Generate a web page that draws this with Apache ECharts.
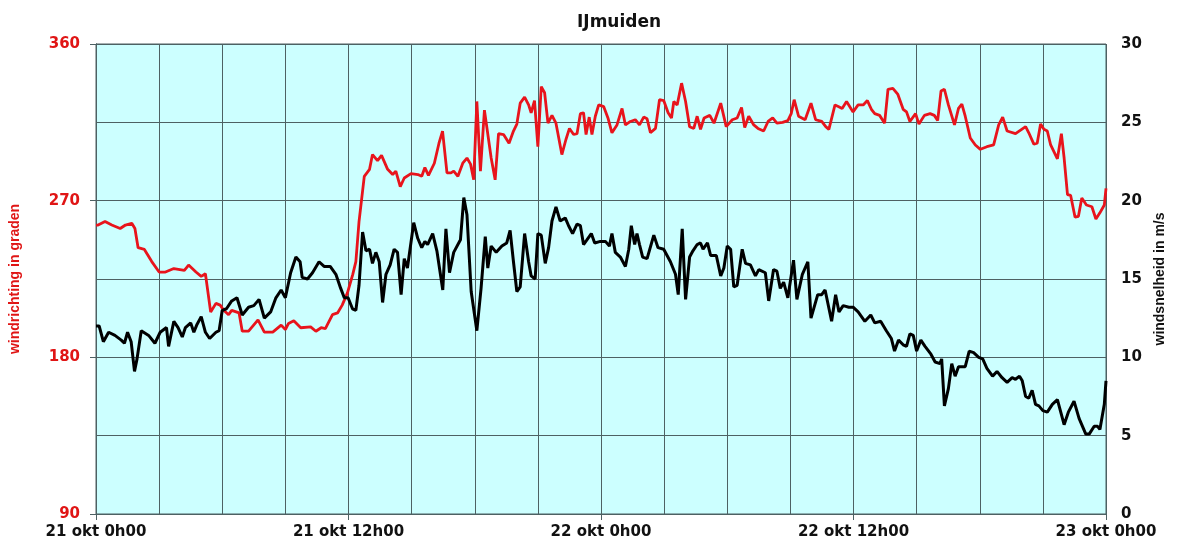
<!DOCTYPE html>
<html>
<head>
<meta charset="utf-8">
<title>IJmuiden</title>
<script src="https://cdn.jsdelivr.net/npm/echarts@6/dist/echarts.min.js"></script>
<style>
    html, body { margin: 0; padding: 0; background: #ffffff; }
    #chart { width: 1192px; height: 543px; }
</style>
</head>
<body>
<div id="chart"></div>
<script>
// ================* IJMUIDEN WIND *

// windrichting (graden), tijd in uren vanaf 21 okt 0h00
const richtingUur = [0, 0.1, 0.43, 0.75, 1.15, 1.4, 1.7, 1.85, 2.0, 2.3, 2.65, 3.0, 3.3, 3.7, 4.2, 4.4, 4.75, 5.0, 5.2, 5.45,
    5.7, 5.9, 6.07, 6.3, 6.45, 6.8, 6.95, 7.25, 7.7, 8.0, 8.4, 8.8, 9.0, 9.15, 9.4, 9.73, 10.2, 10.45, 10.7, 10.9,
    11.24, 11.48, 11.7, 11.95, 12.2, 12.35, 12.5, 12.75, 13.0, 13.14, 13.38, 13.57, 13.86, 14.1, 14.25, 14.46, 14.65, 14.97, 15.3, 15.48,
    15.63, 15.8, 16.08, 16.3, 16.47, 16.68, 16.87, 17.0, 17.2, 17.43, 17.63, 17.8, 17.95, 18.1, 18.27, 18.46, 18.78, 18.97, 19.13, 19.37,
    19.63, 19.84, 20.0, 20.16, 20.37, 20.56, 20.68, 20.84, 21.0, 21.16, 21.32, 21.48, 21.67, 21.86, 22.14, 22.33, 22.5, 22.7, 22.86, 23.02,
    23.17, 23.29, 23.44, 23.57, 23.73, 23.89, 24.13, 24.33, 24.52, 24.76, 25.0, 25.16, 25.4, 25.63, 25.83, 26.03, 26.19, 26.35, 26.59, 26.78,
    26.98, 27.19, 27.35, 27.46, 27.62, 27.83, 28.02, 28.21, 28.41, 28.57, 28.73, 28.9, 29.17, 29.37, 29.69, 29.95, 30.24, 30.47, 30.68, 30.83,
    31.02, 31.26, 31.46, 31.73, 31.94, 32.16, 32.36, 32.63, 32.88, 33.04, 33.18, 33.39, 33.7, 33.98, 34.2, 34.49, 34.68, 34.83, 35.12, 35.3,
    35.46, 35.67, 35.98, 36.22, 36.46, 36.66, 36.85, 37.01, 37.24, 37.48, 37.64, 37.87, 38.11, 38.36, 38.52, 38.68, 38.95, 39.11, 39.37, 39.64,
    39.84, 40.0, 40.16, 40.32, 40.51, 40.8, 40.99, 41.15, 41.31, 41.55, 41.79, 42.03, 42.34, 42.66, 42.9, 43.09, 43.3, 43.7, 44.18, 44.33,
    44.57, 44.73, 44.89, 45.05, 45.21, 45.37, 45.69, 45.88, 46.01, 46.17, 46.32, 46.53, 46.69, 46.85, 47.07, 47.33, 47.52, 47.71, 47.92, 48.0];
const richting = [256, 256, 258, 256, 254, 256, 257, 254, 243, 242, 235, 229, 229, 231, 230, 233, 229, 226.5, 228, 206,
    211, 210, 207, 204.5, 207, 205.5, 195, 195, 201.5, 194.5, 194.5, 198.5, 196, 199.5, 201, 197, 197.5, 195, 197, 196.5,
    204.5, 205.5, 210, 217, 227.5, 235, 258, 284, 288, 296.5, 293, 296, 288, 285, 287, 278, 283, 285.5, 285, 284,
    289, 284.5, 291.5, 303, 310, 286, 286, 287, 284, 291.5, 294.5, 291, 282, 327, 287, 322, 294.5, 282, 308.5, 308,
    303, 310, 314, 326, 329.5, 325, 320.5, 327.5, 301, 335.5, 332, 314.5, 319, 314.5, 296.5, 305, 311.5, 308, 308.5, 320,
    320.5, 308, 318, 308, 318.5, 325, 324, 317.5, 309, 313.5, 323, 313.5, 315.5, 316.5, 313.5, 318, 317, 309, 311.5, 328,
    327.5, 320.5, 317.5, 327, 325, 337.5, 327, 312.5, 311.5, 318.5, 311, 317.5, 319, 314.5, 326, 312.5, 316.5, 317.5, 323.5, 312,
    318.5, 313.5, 311.5, 310, 315.5, 317.5, 314.5, 315, 316, 320, 328, 318.5, 316.5, 326, 316.5, 315.5, 312.5, 311, 325, 324,
    323, 327, 321, 325, 325, 327.5, 322.5, 320, 319, 314.5, 334, 334.5, 331, 322.5, 321, 315.5, 320, 314, 319, 320,
    319, 316, 333, 334, 325, 313.5, 323, 325.5, 318.5, 306, 302, 299.5, 301, 302, 313.5, 318, 310, 308.5, 312.5, 309,
    302.5, 303, 314, 311, 310, 302, 294, 308.5, 294.5, 273.5, 273, 260.5, 261, 271.5, 267.5, 266.5, 259.5, 263, 267.5, 277];

// windsnelheid (m/s)
const snelheidUur = [0, 0.15, 0.35, 0.6, 0.9, 1.2, 1.35, 1.5, 1.67, 1.83, 1.95, 2.15, 2.5, 2.8, 3.05, 3.35, 3.45, 3.7, 3.9, 4.1,
    4.25, 4.5, 4.65, 4.8, 5.0, 5.2, 5.4, 5.7, 5.85, 6.0, 6.2, 6.45, 6.7, 6.95, 7.25, 7.5, 7.75, 8.0, 8.3, 8.55,
    8.8, 9.0, 9.25, 9.5, 9.7, 9.8, 10.05, 10.29, 10.6, 10.84, 11.13, 11.4, 11.63, 11.8, 11.98, 12.19, 12.35, 12.5, 12.67, 12.83,
    13.0, 13.14, 13.3, 13.46, 13.62, 13.78, 13.98, 14.17, 14.33, 14.5, 14.65, 14.8, 15.1, 15.29, 15.48, 15.63, 15.76, 16.0, 16.2, 16.48,
    16.63, 16.8, 17.0, 17.32, 17.48, 17.63, 17.83, 18.1, 18.3, 18.5, 18.62, 18.78, 19.02, 19.29, 19.52, 19.68, 19.84, 20.0, 20.16, 20.37,
    20.56, 20.68, 20.87, 21.0, 21.16, 21.35, 21.51, 21.67, 21.86, 22.06, 22.3, 22.46, 22.65, 22.86, 23.02, 23.17, 23.33, 23.54, 23.7, 23.97,
    24.21, 24.4, 24.52, 24.68, 24.92, 25.16, 25.32, 25.44, 25.6, 25.71, 25.83, 25.98, 26.19, 26.51, 26.71, 26.98, 27.3, 27.54, 27.67, 27.86,
    28.02, 28.21, 28.37, 28.57, 28.73, 28.85, 29.06, 29.21, 29.48, 29.69, 29.84, 30.0, 30.16, 30.31, 30.47, 30.71, 30.87, 31.1, 31.34, 31.5,
    31.81, 31.97, 32.2, 32.36, 32.52, 32.68, 32.88, 33.15, 33.31, 33.57, 33.83, 33.98, 34.3, 34.49, 34.65, 34.96, 35.15, 35.31, 35.51, 35.78,
    35.98, 36.22, 36.54, 36.82, 37.01, 37.29, 37.56, 37.8, 37.95, 38.14, 38.36, 38.52, 38.68, 38.84, 39.0, 39.2, 39.4, 39.68, 39.88, 40.11,
    40.19, 40.32, 40.51, 40.67, 40.83, 40.99, 41.31, 41.5, 41.71, 41.95, 42.14, 42.34, 42.61, 42.82, 43.06, 43.3, 43.54, 43.7, 43.89, 44.02,
    44.18, 44.33, 44.49, 44.65, 44.81, 45.0, 45.21, 45.45, 45.69, 46.01, 46.21, 46.48, 46.72, 47.04, 47.2, 47.44, 47.6, 47.71, 47.92, 48.0];
const snelheid = [12.0, 12.0, 11.0, 11.6, 11.4, 11.1, 10.9, 11.6, 11.0, 9.1, 9.9, 11.7, 11.4, 10.9, 11.6, 11.9, 10.7, 12.3, 11.9, 11.3,
    11.9, 12.2, 11.6, 12.1, 12.6, 11.6, 11.2, 11.6, 11.7, 13.0, 13.1, 13.6, 13.8, 12.7, 13.2, 13.3, 13.7, 12.5, 12.9, 13.8,
    14.3, 13.8, 15.4, 16.4, 16.1, 15.1, 15.0, 15.4, 16.1, 15.8, 15.8, 15.3, 14.4, 13.8, 13.8, 13.1, 13.0, 14.6, 18.0, 16.8,
    16.9, 16.0, 16.7, 16.1, 13.5, 15.3, 15.9, 16.9, 16.7, 14.0, 16.3, 15.7, 18.6, 17.6, 17.0, 17.4, 17.2, 17.9, 16.8, 14.3,
    18.2, 15.4, 16.7, 17.5, 20.2, 19.1, 14.2, 11.7, 14.4, 17.7, 15.7, 17.1, 16.7, 17.1, 17.3, 18.1, 16.1, 14.2, 14.5, 17.9,
    16.1, 15.2, 15.0, 17.9, 17.8, 16.0, 17.0, 18.7, 19.6, 18.7, 18.9, 18.4, 17.9, 18.5, 18.4, 17.2, 17.5, 17.9, 17.3, 17.4,
    17.4, 17.1, 17.9, 16.7, 16.4, 15.8, 16.9, 18.4, 17.2, 17.9, 17.2, 16.4, 16.3, 17.8, 17.0, 16.9, 16.1, 15.3, 14.0, 18.2,
    13.7, 16.4, 16.8, 17.2, 17.3, 16.9, 17.3, 16.5, 16.5, 15.2, 15.7, 17.1, 16.9, 14.5, 14.6, 16.9, 16.0, 15.9, 15.2, 15.6,
    15.4, 13.6, 15.6, 15.5, 14.4, 14.8, 13.8, 16.2, 13.7, 15.3, 16.1, 12.5, 14.0, 14.0, 14.3, 12.3, 14.0, 12.9, 13.3, 13.2,
    13.2, 12.9, 12.3, 12.7, 12.2, 12.3, 11.7, 11.2, 10.4, 11.1, 10.8, 10.7, 11.5, 11.4, 10.4, 11.1, 10.7, 10.2, 9.7, 9.6,
    9.9, 6.9, 8.0, 9.6, 8.8, 9.4, 9.4, 10.4, 10.3, 10.0, 9.9, 9.3, 8.8, 9.1, 8.7, 8.4, 8.7, 8.6, 8.8, 8.5,
    7.5, 7.4, 7.9, 7.0, 6.9, 6.6, 6.5, 7.0, 7.3, 5.7, 6.5, 7.2, 6.1, 5.1, 5.1, 5.6, 5.6, 5.4, 7.0, 8.5];

const labelFont = 'DejaVu Sans';
const nameFont = 'Liberation Sans Narrow, Liberation Sans, sans-serif';
const gridColor = '#4d6163';

function dagLabel(val) {
    if (val % 12 !== 0) return '';
    let dag = 21 + Math.floor(val / 24);
    let uur = val % 24;
    return dag + ' okt ' + uur + 'h00';
}

var wind = echarts.init(document.getElementById('chart'), null, { renderer: 'canvas' });
option1 = {
    animation: false,
    title: {
        text: 'IJmuiden',
        left: 572,
        top: 9,
        textStyle: {
            fontFamily: labelFont,
            fontSize: 17,
            fontWeight: 'bold',
            color: '#111111'
        }
    },
    grid: {
        left: 96,
        top: 44,
        right: 86,
        bottom: 29,
        show: true,
        backgroundColor: '#ccffff',
        borderColor: gridColor,
        borderWidth: 1
    },
    xAxis: [{
        // Garis Pebatas (elke 3 uur)
        type: 'value',
        position: 'bottom',
        min: 0,
        max: 48,
        interval: 3,
        axisLine: { show: false },
        axisTick: { show: false },
        axisLabel: { show: false },
        splitLine: {
            show: true,
            lineStyle: { color: gridColor, width: 1 }
        }
    }, {
        type: 'value',
        position: 'bottom',
        min: 0,
        max: 48,
        interval: 12,
        axisLine: { show: true, lineStyle: { color: gridColor } },
        axisTick: { show: true, length: 6, lineStyle: { color: gridColor } },
        splitLine: { show: false },
        axisLabel: {
            margin: 11,
            color: '#111111',
            fontFamily: labelFont,
            fontSize: 15,
            fontWeight: 'bold',
            formatter: dagLabel
        }
    }],
    yAxis: [{
        type: 'value',
        position: 'left',
        min: 90,
        max: 360,
        interval: 90,
        name: 'windrichting in graden',
        nameLocation: 'middle',
        nameRotate: 90,
        nameGap: 74,
        nameTextStyle: {
            color: '#e01515',
            fontFamily: nameFont,
            fontSize: 14,
            fontWeight: 'bold'
        },
        axisLine: { show: true, lineStyle: { color: gridColor } },
        axisTick: { show: true, length: 6, lineStyle: { color: gridColor } },
        splitLine: { show: false },
        axisLabel: {
            margin: 16,
            color: '#e01515',
            fontFamily: labelFont,
            fontSize: 15,
            fontWeight: 'bold'
        }
    }, {
        type: 'value',
        position: 'right',
        min: 0,
        max: 30,
        interval: 5,
        name: 'windsnelheid in m/s',
        nameLocation: 'middle',
        nameRotate: 90,
        nameGap: 42,
        nameTextStyle: {
            color: '#111111',
            fontFamily: nameFont,
            fontSize: 14,
            fontWeight: 'bold'
        },
        axisLine: { show: true, lineStyle: { color: gridColor } },
        axisTick: { show: true, length: 6, lineStyle: { color: gridColor } },
        splitLine: {
            show: true,
            lineStyle: { color: gridColor, width: 1 }
        },
        axisLabel: {
            margin: 15,
            color: '#111111',
            fontFamily: labelFont,
            fontSize: 15,
            fontWeight: 'bold'
        }
    }],
    series: [{
        name: 'windrichting',
        type: 'line',
        xAxisIndex: 0,
        yAxisIndex: 0,
        showSymbol: false,
        smooth: false,
        data: richtingUur.map(function (u, i) { return [u, richting[i]]; }),
        lineStyle: { color: '#e8141c', width: 2.8 },
        itemStyle: { color: '#e8141c' },
        z: 3
    }, {
        name: 'windsnelheid',
        type: 'line',
        xAxisIndex: 0,
        yAxisIndex: 1,
        showSymbol: false,
        smooth: false,
        data: snelheidUur.map(function (u, i) { return [u, snelheid[i]]; }),
        lineStyle: { color: '#000000', width: 3 },
        itemStyle: { color: '#000000' },
        z: 4
    }]
};
wind.setOption(option1);
</script>
</body>
</html>
